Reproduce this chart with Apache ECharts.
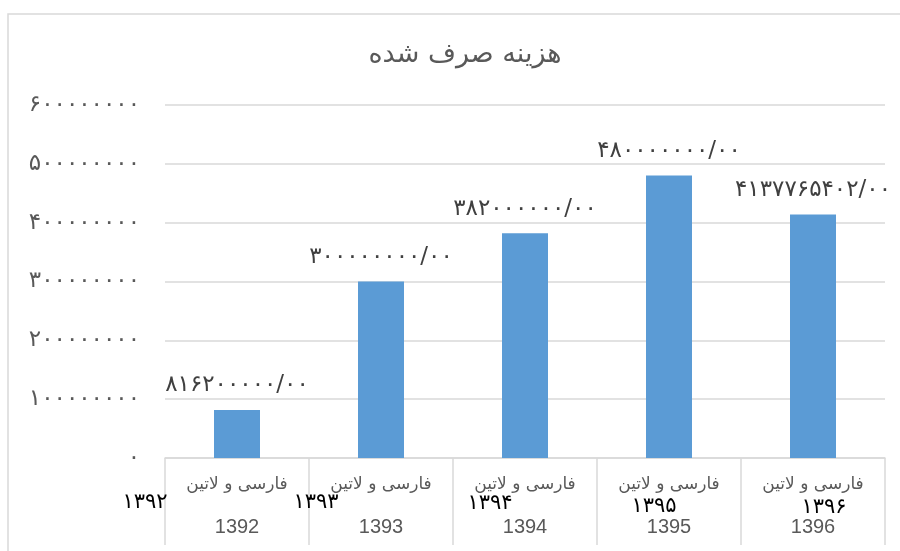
<!DOCTYPE html>
<html>
<head>
<meta charset="utf-8">
<script src="https://cdn.jsdelivr.net/npm/echarts@6/dist/echarts.min.js"></script>
<style>
html,body{margin:0;padding:0;background:#fff;}
#c{width:900px;height:551px;}
</style>
</head>
<body>
<div id="c"></div>
<script>
var titleText = 'هزینه صرف شده';
var categories = ['1392', '1393', '1394', '1395', '1396'];
var categoryTitles = ['فارسی و لاتین', 'فارسی و لاتین', 'فارسی و لاتین', 'فارسی و لاتین', 'فارسی و لاتین'];
var persianYears = ['۱۳۹۲', '۱۳۹۳', '۱۳۹۴', '۱۳۹۵', '۱۳۹۶'];
var values = [81620000, 300000000, 382000000, 480000000, 413776540];
var valueLabels = ['۸۱۶۲۰۰۰۰۰/۰۰', '۳۰۰۰۰۰۰۰۰/۰۰', '۳۸۲۰۰۰۰۰۰/۰۰', '۴۸۰۰۰۰۰۰۰/۰۰', '۴۱۳۷۷۶۵۴۰۲/۰۰'];
var yTicks = [0, 100000000, 200000000, 300000000, 400000000, 500000000, 600000000];

// style-only shifts of the stray black year labels (pixels, relative to category centre)
var yearShiftX = [-92, -65, -35, -15, 11];
var yearShiftY = [45, 45, 46, 49, 50];

function toPersianDigits(s) {
  return String(s).replace(/[0-9]/g, function (d) { return '۰۱۲۳۴۵۶۷۸۹'[+d]; });
}

var chart = echarts.init(document.getElementById('c'), null, {renderer: 'canvas'});
var option = {
  backgroundColor: '#ffffff',
  animation: false,
  title: {
    text: titleText,
    left: 460,
    top: 36,
    textAlign: 'center',
    textStyle: {fontFamily: 'DejaVu Sans', fontSize: 27, fontWeight: 'normal', color: '#595959'}
  },
  grid: {left: 165, right: 15, top: 105, bottom: 93, containLabel: false},
  xAxis: {
    type: 'category',
    data: categories,
    axisLine: {show: true, lineStyle: {color: '#d9d9d9', width: 1.5}},
    axisTick: {show: true, length: 87, lineStyle: {color: '#d9d9d9', width: 1.5}},
    axisLabel: {
      interval: 0,
      margin: 5,
      formatter: function (v, i) {
        return '{a|' + categoryTitles[i] + '}\n{b|' + v + '}';
      },
      rich: {
        a: {fontFamily: 'DejaVu Sans', fontSize: 17, color: '#595959', lineHeight: 43, align: 'center'},
        b: {fontFamily: 'Liberation Sans', fontSize: 20, color: '#595959', lineHeight: 43, align: 'center'}
      }
    }
  },
  yAxis: {
    type: 'value',
    min: yTicks[0],
    max: yTicks[yTicks.length - 1],
    interval: yTicks[1] - yTicks[0],
    axisLine: {show: false},
    axisTick: {show: false},
    splitLine: {lineStyle: {color: '#d9d9d9', width: 1.5}},
    axisLabel: {
      margin: 25,
      fontFamily: 'DejaVu Sans',
      fontSize: 23,
      color: '#595959',
      formatter: function (v) { return toPersianDigits(v); }
    }
  },
  series: [{
    type: 'bar',
    data: values,
    barWidth: 46,
    itemStyle: {color: '#5b9bd5'},
    label: {
      show: true,
      position: 'top',
      distance: 13,
      fontFamily: 'DejaVu Sans',
      fontSize: 23,
      color: '#404040',
      formatter: function (p) { return valueLabels[p.dataIndex]; }
    }
  }],
  graphic: []
};
chart.setOption(option);

var axisY = chart.convertToPixel({yAxisIndex: 0}, 0);
var g = [{
  type: 'rect',
  silent: true,
  shape: {x: 8, y: 14, width: 1000, height: 700},
  style: {fill: 'none', stroke: '#d9d9d9', lineWidth: 1.5},
  z: -1
}];
persianYears.forEach(function (t, i) {
  var cx = chart.convertToPixel({xAxisIndex: 0}, categories[i]);
  g.push({
    type: 'text',
    silent: true,
    x: cx + yearShiftX[i],
    y: axisY + yearShiftY[i],
    style: {
      text: t,
      fontFamily: 'DejaVu Sans',
      fontSize: 21,
      fill: '#000000',
      align: 'center',
      verticalAlign: 'middle'
    },
    z: 10
  });
});
chart.setOption({graphic: g});
</script>
</body>
</html>
